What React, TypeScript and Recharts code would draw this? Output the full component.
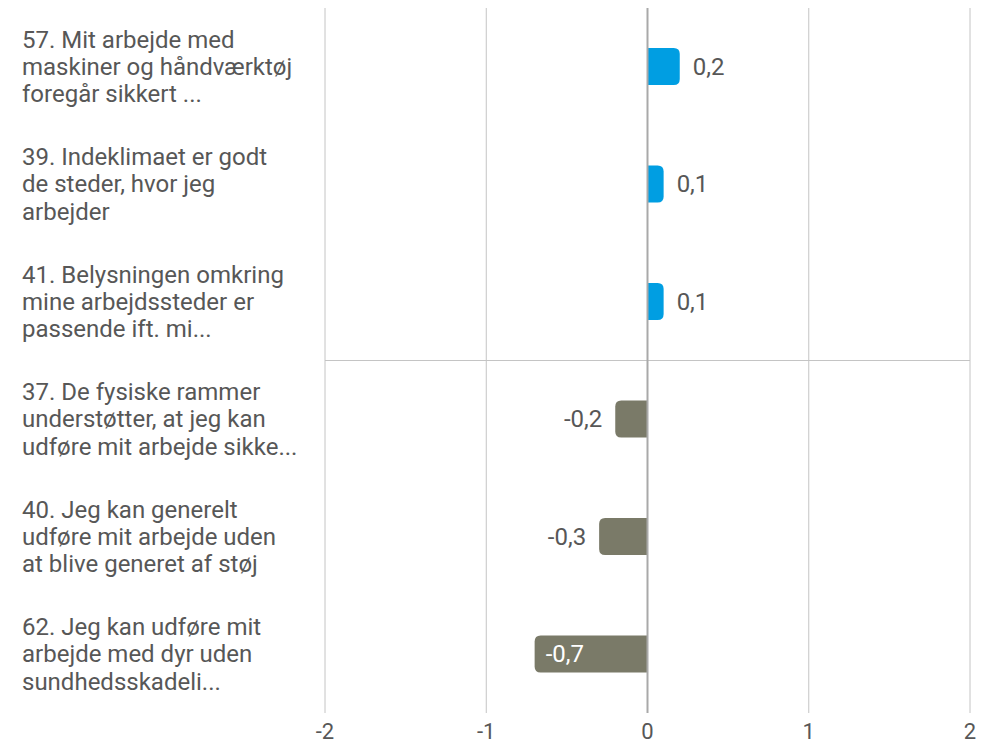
import React from "react";
import { BarChart, Bar, XAxis, YAxis, CartesianGrid, ReferenceLine, LabelList } from "recharts";

const categories = [
  "57. Mit arbejde med\nmaskiner og håndværktøj\nforegår sikkert ...",
  "39. Indeklimaet er godt\nde steder, hvor jeg\narbejder",
  "41. Belysningen omkring\nmine arbejdssteder er\npassende ift. mi...",
  "37. De fysiske rammer\nunderstøtter, at jeg kan\nudføre mit arbejde sikke...",
  "40. Jeg kan generelt\nudføre mit arbejde uden\nat blive generet af støj",
  "62. Jeg kan udføre mit\narbejde med dyr uden\nsundhedsskadeli...",
];
const values = [0.2, 0.1, 0.1, -0.2, -0.3, -0.7];
const xTicks = [-2, -1, 0, 1, 2];

const data = categories.map((c, i) => ({ name: c, value: values[i] }));

const POS = "#009ee2";
const NEG = "#7a7a68";
const TEXT = "#575757";
const FONT = "Roboto, sans-serif";

const fmt = (v: number) => v.toFixed(1).replace(".", ",");

const YTick = (props: any) => {
  const { y, payload } = props;
  const lines = String(payload.value).split("\n");
  const lh = 27.3;
  const start = -((lines.length - 1) * lh) / 2;
  return (
    <text x={22} y={y} fill={TEXT} fontSize={24} fontFamily={FONT} textAnchor="start">
      {lines.map((l, i) => (
        <tspan key={i} x={22} y={y + start + i * lh} dy="0.34em">
          {l}
        </tspan>
      ))}
    </text>
  );
};

const BarShape = (props: any) => {
  const { x, y, width, height, value } = props;
  const v = Array.isArray(value) ? value[1] : value;
  const left = Math.min(x, x + width);
  const w = Math.abs(width);
  const r = Math.min(6, w / 2, height / 2);
  const right = left + w;
  const bottom = y + height;
  let d: string;
  if (v >= 0) {
    d = `M${left},${y} L${right - r},${y} Q${right},${y} ${right},${y + r} L${right},${bottom - r} Q${right},${bottom} ${right - r},${bottom} L${left},${bottom} Z`;
  } else {
    d = `M${right},${y} L${left + r},${y} Q${left},${y} ${left},${y + r} L${left},${bottom - r} Q${left},${bottom} ${left + r},${bottom} L${right},${bottom} Z`;
  }
  return <path d={d} fill={v >= 0 ? POS : NEG} />;
};

const ValueLabel = (props: any) => {
  const { x, y, width, height, value } = props;
  const v = Number(value);
  const left = Math.min(x, x + width);
  const w = Math.abs(width);
  const cy = y + height / 2;
  if (v >= 0) {
    return (
      <text x={left + w + 13} y={cy} dy="0.35em" fill={TEXT} fontSize={24} fontFamily={FONT} textAnchor="start">
        {fmt(v)}
      </text>
    );
  }
  if (w > 80) {
    return (
      <text x={left + 11} y={cy} dy="0.35em" fill="#ffffff" fontSize={24} fontFamily={FONT} textAnchor="start">
        {fmt(v)}
      </text>
    );
  }
  return (
    <text x={left - 13} y={cy} dy="0.35em" fill={TEXT} fontSize={24} fontFamily={FONT} textAnchor="end">
      {fmt(v)}
    </text>
  );
};

export default function App() {
  return (
    <div style={{ position: "absolute", left: 0, top: 0 }}>
      <BarChart
        width={984}
        height={749}
        data={data}
        layout="vertical"
        margin={{ top: 8, right: 14, left: 0, bottom: 0 }}
      >
        <CartesianGrid
          stroke="#c4c4c4"
          strokeWidth={1}
          horizontalCoordinatesGenerator={(p: any) =>
            p && p.offset ? [p.offset.top + p.offset.height / 2] : []
          }
        />
        <XAxis
          type="number"
          domain={[-2, 2]}
          ticks={xTicks}
          axisLine={false}
          tickLine={false}
          tickSize={0}
          tickMargin={10}
          height={36}
          tick={{ fill: TEXT, fontSize: 22, fontFamily: FONT }}
          tickFormatter={(v: number) => String(v)}
        />
        <YAxis
          type="category"
          dataKey="name"
          width={325}
          axisLine={false}
          tickLine={false}
          tick={<YTick />}
          interval={0}
        />
        <ReferenceLine x={0} stroke="#a9a9a9" strokeWidth={2} />
        <Bar dataKey="value" barSize={37} isAnimationActive={false} shape={<BarShape />}>
          <LabelList dataKey="value" content={<ValueLabel />} />
        </Bar>
      </BarChart>
    </div>
  );
}
